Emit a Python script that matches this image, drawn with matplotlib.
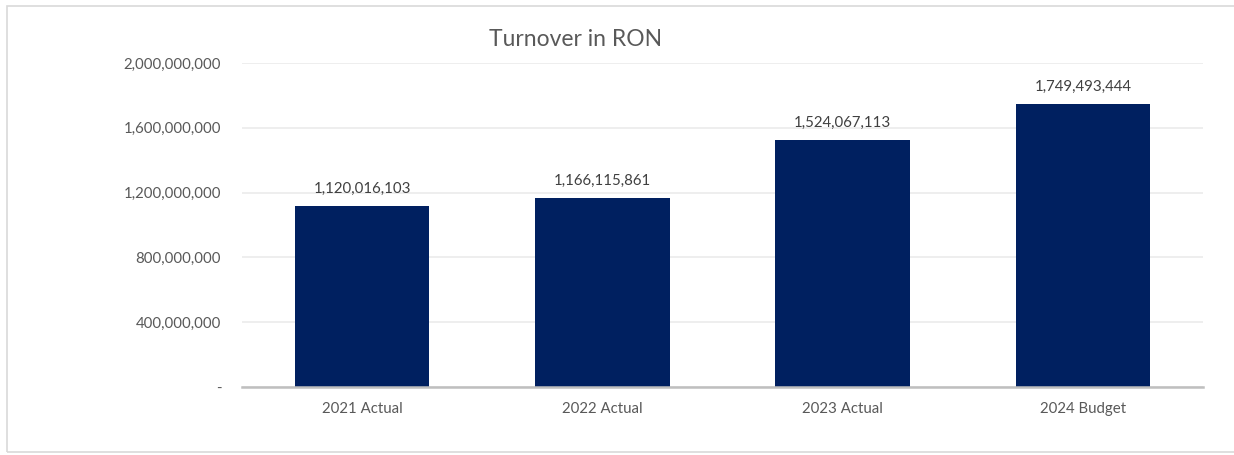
import matplotlib
matplotlib.use("Agg")
from matplotlib import pyplot as plt
from matplotlib.patches import Rectangle
from matplotlib.ticker import FuncFormatter

# Turnover figures, RON
years = ["2021 Actual", "2022 Actual", "2023 Actual", "2024 Budget"]
turnover = [1120016103, 1166115861, 1524067113, 1749493444]
y_ticks = [0, 400000000, 800000000, 1200000000, 1600000000, 2000000000]

plt.rcParams['font.family'] = ['Lato', 'DejaVu Sans']

W, H = 1234, 455
fig = plt.figure(figsize=(W / 100, H / 100), dpi=100)

# thin frame around the chart area (runs off the right edge)
fig.patches.append(Rectangle((7 / W, 3 / H), 1.2, (H - 9) / H, transform=fig.transFigure,
                             fill=False, edgecolor='#d9d9d9', linewidth=1.2))

ax = fig.add_axes([242 / W, 1 - 387 / H, (1203 - 242) / W, (387 - 63) / H])

x = range(len(years))
ax.bar(x, turnover, width=0.56, color='#002060', zorder=3)

for i, v in enumerate(turnover):
    ax.annotate(f"{v:,}", (i, v), xytext=(0, 7), textcoords='offset points',
                ha='center', va='bottom', fontsize=10.8, color='#404040')

ax.set_xlim(-0.5, len(years) - 0.5)
ax.set_ylim(0, 2000000000)
ax.set_yticks(y_ticks)
ax.yaxis.set_major_formatter(FuncFormatter(lambda v, p: "-" if v == 0 else f"{int(v):,}"))
ax.set_xticks(list(x))
ax.set_xticklabels(years)

ax.grid(axis='y', color='#ebebeb', linewidth=1.2, zorder=0)
for s in ['top', 'right', 'left']:
    ax.spines[s].set_visible(False)
ax.spines['bottom'].set_color('#bfbfbf')
ax.spines['bottom'].set_linewidth(1.8)
ax.spines['bottom'].set_zorder(4)

ax.tick_params(axis='both', length=0, labelsize=10.8, labelcolor='#595959')
ax.tick_params(axis='y', pad=15)
ax.tick_params(axis='x', pad=11)

fig.text(576 / W, 1 - 40 / H, "Turnover in RON", ha='center', va='center',
         fontsize=16.5, color='#595959')

fig.savefig("out.png", dpi=100)
